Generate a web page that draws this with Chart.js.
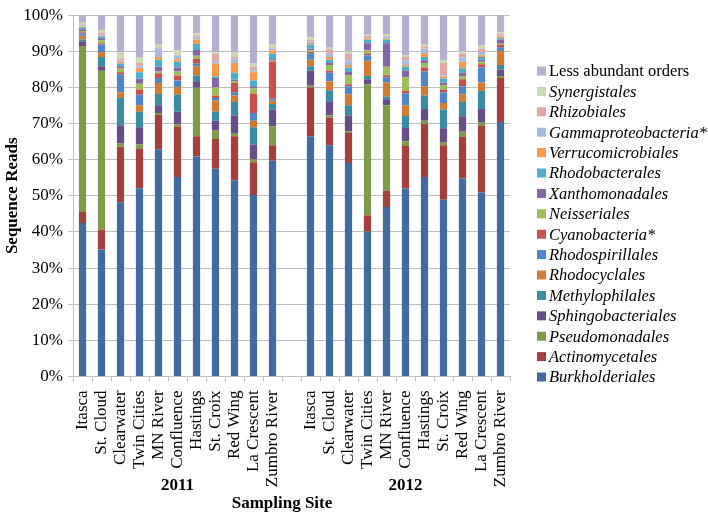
<!DOCTYPE html>
<html>
<head>
<meta charset="utf-8">
<script src="https://cdn.jsdelivr.net/npm/chart.js@4.4.0/dist/chart.umd.min.js"></script>
<style>
  html, body { margin: 0; padding: 0; background: #fff; }
  #c { display: block; }
</style>
</head>
<body>
<canvas id="c" width="708" height="514"></canvas>
<script>
// sites sampled each year (the empty slot separates 2011 from 2012)
const sites = ['Itasca', 'St. Cloud', 'Clearwater', 'Twin Cities', 'MN River', 'Confluence',
               'Hastings', 'St. Croix', 'Red Wing', 'La Crescent', 'Zumbro River'];
const years = ['2011', '2012'];

// % of sequence reads, 11 values for 2011 followed by 11 for 2012
const burkholderiales    = [42.5,35.1,48.2,52.0,62.9,55.2,60.9,57.5,54.3,50.2,59.7, 66.5,64.0,59.1,40.1,46.9,52.0,55.2,48.9,54.8,50.9,70.4];
const actinomycetales    = [3.0,5.5,15.4,11.1,9.5,14.0,5.6,8.2,12.2,9.1,4.3, 13.5,7.7,8.3,4.5,4.5,11.8,14.7,15.1,11.5,18.4,12.2];
const pseudomonadales    = [46.0,44.0,0.9,1.1,0.5,0.6,13.4,2.4,0.7,0.9,5.2, 0.5,0.5,0.4,36.2,23.7,1.2,0.9,0.7,1.4,0.9,0.6];
const sphingobacteriales = [1.3,1.3,5.0,4.8,2.2,3.5,1.8,2.7,5.0,4.0,4.6, 4.1,4.0,4.4,1.5,1.6,3.8,3.2,4.0,4.3,3.8,1.8];
const methylophilales    = [0.5,2.5,7.6,4.3,3.1,4.7,1.6,2.5,3.8,4.8,1.6, 1.3,3.0,2.9,0.9,0.7,3.3,3.8,5.2,4.0,5.0,1.2];
const rhodocyclales      = [1.0,1.4,1.6,1.8,3.0,2.1,2.6,3.1,1.8,1.8,0.9, 1.8,2.5,3.0,4.2,4.0,3.0,2.5,1.8,2.1,2.4,3.9];
const rhodospirillales   = [0.7,2.1,4.9,2.9,1.4,1.8,0.7,0.7,0.9,2.1,0.6, 1.8,2.4,2.2,1.5,1.4,3.2,4.1,3.0,2.2,4.1,1.0];
const cyanobacteria      = [0.3,0.3,0.6,1.4,1.3,1.4,1.3,0.7,2.5,5.4,10.2, 0.3,0.5,0.6,0.5,0.6,0.8,1.1,0.7,2.0,0.9,0.7];
const neisseriales       = [0.3,0.8,1.2,1.6,0.5,1.1,0.9,2.2,0.5,1.4,0.3, 0.4,1.6,2.5,0.8,2.3,3.7,1.3,1.3,0.9,0.7,0.3];
const xanthomonadales    = [0.5,0.6,0.5,1.4,1.3,1.1,1.6,2.6,0.4,0.6,0.4, 0.5,0.6,0.9,2.0,6.5,1.8,0.7,0.7,0.9,0.6,1.1];
const rhodobacterales    = [0.5,0.5,0.7,1.8,2.0,1.6,1.6,0.4,2.0,1.6,1.5, 1.2,0.9,1.2,1.0,1.0,1.1,0.9,1.1,1.2,0.7,0.4];
const verrucomicrobiales = [0.3,0.3,0.5,1.1,0.7,0.7,1.3,3.6,2.7,2.3,0.9, 0.4,0.7,0.7,0.4,0.3,0.5,1.1,0.5,1.8,0.5,0.5];
const gammaproteobacteria= [0.3,0.4,0.3,0.6,2.3,1.1,0.6,0.7,1.2,0.4,0.5, 0.4,0.9,1.3,0.3,0.5,1.3,1.2,0.4,1.2,0.9,0.3];
const rhizobiales        = [0.2,0.4,0.6,0.9,0.4,0.2,0.5,2.0,0.4,1.1,0.4, 0.5,1.3,1.8,0.4,0.3,0.9,0.6,3.4,1.0,0.9,0.5];
const synergistales      = [0.5,0.7,1.8,1.4,0.7,1.1,0.5,0.5,1.2,0.9,0.9, 0.7,0.4,0.7,0.5,0.5,0.5,0.5,0.7,0.7,0.9,0.3];
const lessAbundant       = [2.1,4.1,10.2,11.8,8.2,9.8,5.1,10.2,10.4,13.4,8.0, 6.1,9.0,10.0,5.2,5.2,11.1,8.2,12.5,10.0,8.4,4.8];

// stack order, bottom first
const series = [
  ['Burkholderiales', burkholderiales, '#416b9f'],
  ['Actinomycetales', actinomycetales, '#a3403d'],
  ['Pseudomonadales', pseudomonadales, '#7f9b48'],
  ['Sphingobacteriales', sphingobacteriales, '#664f86'],
  ['Methylophilales', methylophilales, '#3a8ca3'],
  ['Rhodocyclales', rhodocyclales, '#d17c32'],
  ['Rhodospirillales', rhodospirillales, '#4f86c9'],
  ['Cyanobacteria*', cyanobacteria, '#c9504d'],
  ['Neisseriales', neisseriales, '#9dbe5a'],
  ['Xanthomonadales', xanthomonadales, '#8566a6'],
  ['Rhodobacterales', rhodobacterales, '#4bafcb'],
  ['Verrucomicrobiales', verrucomicrobiales, '#f89a4a'],
  ['Gammaproteobacteria*', gammaproteobacteria, '#a9bbe0'],
  ['Rhizobiales', rhizobiales, '#e0a9a8'],
  ['Synergistales', synergistales, '#cadcae'],
  ['Less abundant orders', lessAbundant, '#b8aed0'],
];

const labels = [...sites, '', ...sites];
const withGap = (arr) => [...arr.slice(0, 11), null, ...arr.slice(11)];

const FONT = 'Liberation Serif';
const GRID = '#bfbfbf';

// year captions, axis titles and the legend are drawn by hand
const extras = {
  id: 'extras',
  afterDraw(chart) {
    const { ctx, scales: { x, y } } = chart;
    ctx.save();
    ctx.fillStyle = '#000';
    ctx.textAlign = 'center';
    ctx.textBaseline = 'middle';
    ctx.font = `bold 17px "${FONT}"`;
    ctx.fillText(years[0], x.getPixelForValue(5), 486);
    ctx.fillText(years[1], x.getPixelForValue(17), 486);
    ctx.fillText('Sampling Site', 282, 504);

    ctx.translate(13, (y.top + y.bottom) / 2);
    ctx.rotate(-Math.PI / 2);
    ctx.fillText('Sequence Reads', 0, 0);
    ctx.restore();

    // legend, top entry = top of stack
    ctx.save();
    ctx.textAlign = 'left';
    ctx.textBaseline = 'middle';
    const top = 71, step = 20.4;
    chart.data.datasets.slice().reverse().forEach((ds, i) => {
      const cy = top + i * step;
      ctx.fillStyle = ds.backgroundColor;
      ctx.fillRect(537, cy - 4.5, 9, 9);
      ctx.fillStyle = '#000';
      ctx.font = (ds.label === 'Less abundant orders' ? '' : 'italic ') + `16.5px "${FONT}"`;
      ctx.fillText(ds.label, 549, cy + 1);
    });
    ctx.restore();
  }
};

new Chart(document.getElementById('c'), {
  type: 'bar',
  data: {
    labels,
    datasets: series.map(([label, vals, color]) => ({
      label,
      data: withGap(vals),
      backgroundColor: color,
      borderWidth: 0,
      categoryPercentage: 1,
      barPercentage: 0.38
    }))
  },
  options: {
    responsive: false,
    animation: false,
    devicePixelRatio: 1,
    layout: { padding: { top: 7.4, right: 198, left: 0, bottom: 0 } },
    plugins: { legend: { display: false }, tooltip: { enabled: false } },
    scales: {
      x: {
        stacked: true,
        grid: { display: true, drawOnChartArea: false, color: GRID, tickLength: 5, offset: true },
        border: { color: GRID },
        ticks: {
          autoSkip: false, minRotation: 90, maxRotation: 90, padding: 9,
          color: '#000', font: { family: FONT, size: 17 }
        },
        afterFit: (s) => { s.height = 137.6; }
      },
      y: {
        stacked: true,
        min: 0, max: 100,
        grid: { color: GRID, tickLength: 5 },
        border: { color: GRID },
        ticks: {
          stepSize: 10, padding: 5, color: '#000',
          font: { family: FONT, size: 17 },
          callback: (v) => v + '%'
        },
        afterFit: (s) => { s.width = 73; }
      }
    }
  },
  plugins: [extras]
});
</script>
</body>
</html>
